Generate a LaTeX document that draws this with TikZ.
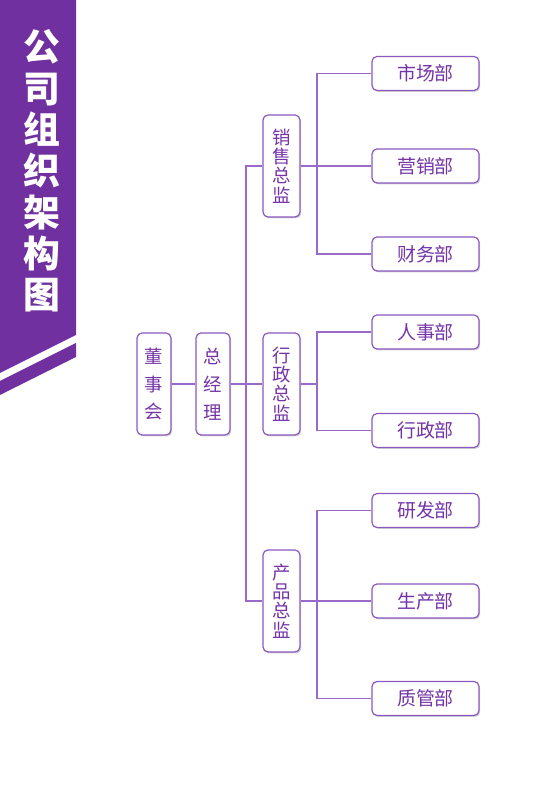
\documentclass[tikz,border=0pt]{standalone}
\usepackage{fontspec}
\newfontfamily\cjk{Noto Sans CJK SC}
\usetikzlibrary{shadows}
\definecolor{bannercol}{HTML}{7030A0}
\definecolor{textcol}{HTML}{7434A8}
\definecolor{edgecol}{HTML}{9A6ACB}
\definecolor{boxcol}{HTML}{8A58C0}
\tikzset{
  unit/.style={draw=boxcol, line width=1.2bp, fill=white, rounded corners=5bp,
    text=textcol, font=\cjk\fontsize{19}{20}\selectfont, inner sep=0pt,
    drop shadow={opacity=0.35, shadow xshift=1.2bp, shadow yshift=-1.5bp}},
  dept/.style={unit, minimum width=107bp, minimum height=34bp},
  head/.style={unit, minimum width=37bp, minimum height=102bp, align=center,
    font=\cjk\fontsize{18.5}{19.5}\selectfont},
  boss/.style={unit, minimum width=34bp, minimum height=102bp, align=center,
    font=\cjk\fontsize{18.5}{28}\selectfont},
  link/.style={draw=edgecol, line width=1.2bp},
}
\begin{document}
\begin{tikzpicture}[x=1bp,y=1bp]
  \useasboundingbox (0,0) rectangle (560,792);
%%
  % Banner
  \fill [bannercol] (0,792) -- (76,792) -- (76,457) -- (0,419) -- cycle;
  \fill [bannercol] (76,449) -- (76,435) -- (0,397) -- (0,411) -- cycle;
  \node [text=white, font=\cjk\bfseries\fontsize{37}{41.5}\selectfont, align=center] (title) at (42,621)
    {公\\司\\组\\织\\架\\构\\图};
  % Node: dsh
  \node [boss] (dsh) at (154,408) {董\\事\\会};
  % Node: zjl
  \node [boss] (zjl) at (213,408) {总\\经\\理};
  % Node: xs
  \node [head] (xs) at (281.5,626) {销\\售\\总\\监};
  % Node: xz
  \node [head] (xz) at (281.5,408) {行\\政\\总\\监};
  % Node: cp
  \node [head] (cp) at (281.5,191) {产\\品\\总\\监};
  % Node: departments
  \node [dept] (scb) at (425.5,718.5) {市场部};
  \node [dept] (yxb) at (425.5,626) {营销部};
  \node [dept] (cwb) at (425.5,538) {财务部};
  \node [dept] (rsb) at (425.5,460) {人事部};
  \node [dept] (xzb) at (425.5,361.5) {行政部};
  \node [dept] (yfb) at (425.5,281.5) {研发部};
  \node [dept] (sc) at (425.5,191) {生产部};
  \node [dept] (zgb) at (425.5,93.5) {质管部};
  % Coordinates: bus lines
  \coordinate (trunk) at (246,408);
  \coordinate (xsbus) at (317,626);
  \coordinate (xzbus) at (317,408);
  \coordinate (cpbus) at (317,191);
  % Edge: dsh -> zjl
  \draw [link] (dsh.east) -- (zjl.west);
  % Edge: zjl -> xs, xz, cp
  \draw [link] (zjl.east) -- (trunk);
  \draw [link] (xs.west) -| (trunk);
  \draw [link] (cp.west) -| (trunk);
  \draw [link] (xz.west) -- (trunk);
  % Edge: xs -> scb, yxb, cwb
  \draw [link] (xs.east) -- (xsbus);
  \draw [link] (scb.west) -| (xsbus);
  \draw [link] (cwb.west) -| (xsbus);
  \draw [link] (yxb.west) -- (xsbus);
  % Edge: xz -> rsb, xzb
  \draw [link] (xz.east) -- (xzbus);
  \draw [link] (rsb.west) -| (xzbus);
  \draw [link] (xzb.west) -| (xzbus);
  % Edge: cp -> yfb, sc, zgb
  \draw [link] (cp.east) -- (cpbus);
  \draw [link] (yfb.west) -| (cpbus);
  \draw [link] (zgb.west) -| (cpbus);
  \draw [link] (sc.west) -- (cpbus);
%
\end{tikzpicture}
\end{document}
